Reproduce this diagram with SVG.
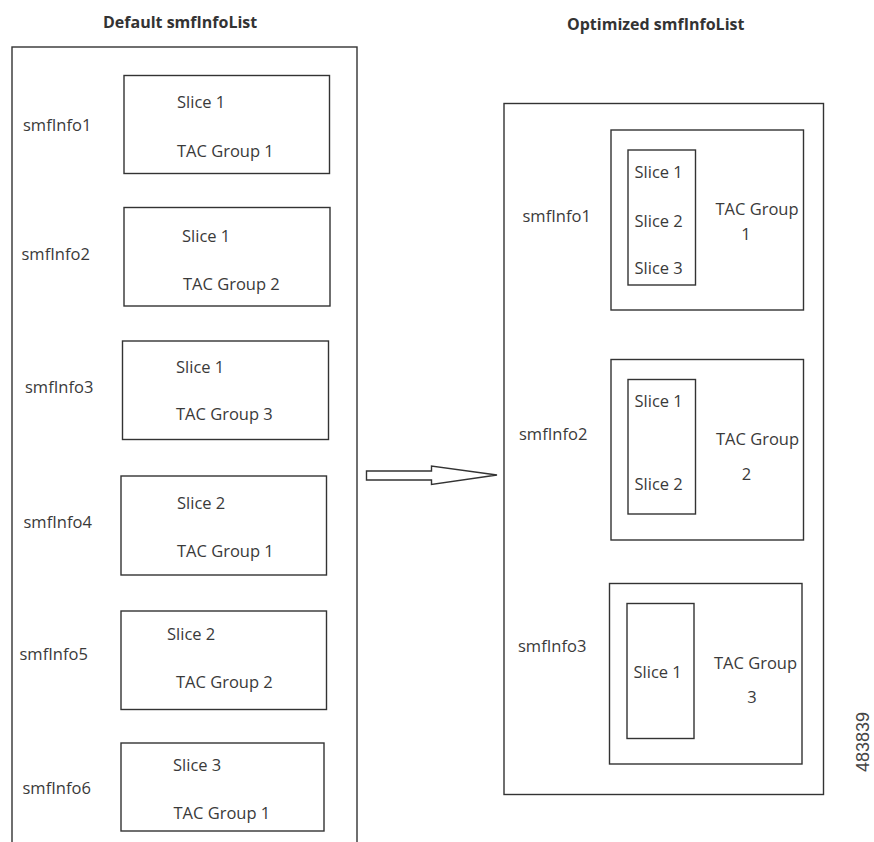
<svg xmlns="http://www.w3.org/2000/svg" width="874" height="842" viewBox="0 0 874 842">
<style>
.box{fill:none;stroke:#333;stroke-width:1.4}
.t{font-family:"Open Sans","Liberation Sans",sans-serif;font-size:16.5px;fill:#3a3a3a}
.h{font-family:"Open Sans","Liberation Sans",sans-serif;font-size:16px;font-weight:bold;fill:#333}
.c{text-anchor:middle}
</style>
<rect width="874" height="842" fill="#fff"/>
<text class="h" x="103" y="28">Default smfInfoList</text>
<text class="h" x="567" y="30">Optimized smfInfoList</text>
<g id="defaultList">
<rect class="box" x="12" y="47" width="345" height="800"/>
</g>
<g id="d1"><rect class="box" x="124" y="75.5" width="205.5" height="98"/>
<text class="t" x="23" y="131">smfInfo1</text><text class="t" x="177" y="108">Slice 1</text><text class="t" x="177" y="157">TAC Group 1</text></g>
<g id="d2"><rect class="box" x="124" y="207.5" width="206" height="98.5"/>
<text class="t" x="21.5" y="260">smfInfo2</text><text class="t" x="182" y="242">Slice 1</text><text class="t" x="183" y="290">TAC Group 2</text></g>
<g id="d3"><rect class="box" x="122.5" y="341" width="206" height="98.5"/>
<text class="t" x="25" y="393">smfInfo3</text><text class="t" x="176" y="372.5">Slice 1</text><text class="t" x="176" y="420">TAC Group 3</text></g>
<g id="d4"><rect class="box" x="121" y="476" width="205.5" height="99"/>
<text class="t" x="23.5" y="528">smfInfo4</text><text class="t" x="177" y="509">Slice 2</text><text class="t" x="177" y="556.5">TAC Group 1</text></g>
<g id="d5"><rect class="box" x="121" y="611" width="205.5" height="98.5"/>
<text class="t" x="19.5" y="660">smfInfo5</text><text class="t" x="167" y="640">Slice 2</text><text class="t" x="176" y="688">TAC Group 2</text></g>
<g id="d6"><rect class="box" x="121" y="743" width="203" height="88"/>
<text class="t" x="22.5" y="794">smfInfo6</text><text class="t" x="173" y="770.5">Slice 3</text><text class="t" x="173.5" y="819">TAC Group 1</text></g>
<g id="optimizedList">
<rect class="box" x="504" y="103.5" width="319.5" height="691"/>
</g>
<g id="o1"><rect class="box" x="611" y="130" width="192.5" height="180"/>
<rect class="box" x="628" y="150" width="67.5" height="135"/>
<text class="t" x="522.5" y="222">smfInfo1</text>
<text class="t" x="634.5" y="178">Slice 1</text><text class="t" x="634.5" y="227">Slice 2</text><text class="t" x="634.5" y="274">Slice 3</text>
<text class="t" x="715.5" y="215">TAC Group</text><text class="t c" x="746" y="239.5">1</text></g>
<g id="o2"><rect class="box" x="611" y="359.5" width="192.5" height="180.5"/>
<rect class="box" x="628" y="379.5" width="67.5" height="134.5"/>
<text class="t" x="519" y="439.5">smfInfo2</text>
<text class="t" x="634.5" y="407">Slice 1</text><text class="t" x="634.5" y="490">Slice 2</text>
<text class="t" x="716" y="445">TAC Group</text><text class="t c" x="746.5" y="479.5">2</text></g>
<g id="o3"><rect class="box" x="609.5" y="583.5" width="192.5" height="180.5"/>
<rect class="box" x="627" y="603.5" width="67" height="135"/>
<text class="t" x="518" y="651.5">smfInfo3</text>
<text class="t" x="633.5" y="678">Slice 1</text>
<text class="t" x="714" y="669">TAC Group</text><text class="t c" x="752" y="703">3</text></g>
<g id="connectors">
<polygon class="box" points="366.5,471 431.5,471 431.5,466 497,475 431.5,484.5 431.5,480 366.5,480"/>
</g>
<text x="0" y="0" transform="translate(869,742) rotate(-90)" text-anchor="middle" font-family="'Liberation Sans',Arial,sans-serif" font-size="18" fill="#444">483839</text>
</svg>
